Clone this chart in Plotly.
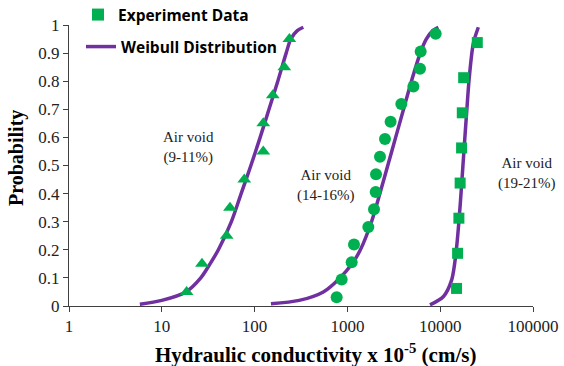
import plotly.graph_objects as go

# Experimental hydraulic conductivity (x 1e-5 cm/s) and cumulative probability
tri_k = [18.5, 27.1, 50, 54.3, 77.4, 124, 124, 157, 209, 237]
tri_p = [0.05, 0.15, 0.25, 0.35, 0.45, 0.55, 0.65, 0.75, 0.85, 0.95]

circ_k = [766, 867, 1112, 1178, 1680, 1935, 2018, 2035, 2245, 2540, 2920,
          3810, 5140, 6060, 6160, 8940]
circ_p = [0.031, 0.094, 0.156, 0.219, 0.281, 0.344, 0.406, 0.469, 0.531,
          0.594, 0.656, 0.719, 0.781, 0.844, 0.906, 0.969]

sq_k = [15000, 15400, 15900, 16400, 17000, 17300, 17900, 25100]
sq_p = [0.0625, 0.1875, 0.3125, 0.4375, 0.5625, 0.6875, 0.8125, 0.9375]

# Weibull distribution curves
wb1_k = [5.8, 10.0, 18.2, 26.3, 33.1, 40.7, 56.2, 71.6, 91.2, 114.8, 142.9,
         177.8, 218.8, 245.5, 288.4, 335]
wb1_p = [0.006, 0.02, 0.05, 0.1, 0.15, 0.2, 0.3, 0.4, 0.5, 0.6, 0.7, 0.8,
         0.9, 0.95, 0.98, 0.992]

wb2_k = [150, 302, 550, 832, 1122, 1380, 1820, 2239, 2723, 3311, 4027, 4898,
         6095, 7079, 8318, 9550]
wb2_p = [0.008, 0.02, 0.05, 0.1, 0.15, 0.2, 0.3, 0.4, 0.5, 0.6, 0.7, 0.8,
         0.9, 0.95, 0.98, 0.992]

wb3_k = [7760, 10790, 13300, 14790, 15960, 17060, 18100, 19250, 20610, 22750,
         25760]
wb3_p = [0.004, 0.033, 0.093, 0.188, 0.306, 0.437, 0.561, 0.686, 0.816,
         0.935, 0.992]

x_ticks = [1, 10, 100, 1000, 10000, 100000]
x_tick_text = ["1", "10", "100", "1000", "10000", "100000"]
y_ticks = [0, 0.1, 0.2, 0.3, 0.4, 0.5, 0.6, 0.7, 0.8, 0.9, 1]
y_tick_text = ["0", "0.1", "0.2", "0.3", "0.4", "0.5", "0.6", "0.7", "0.8",
               "0.9", "1"]

group_labels = ["Air void<br>(9-11%)", "Air void<br>(14-16%)",
                "Air void<br>(19-21%)"]
x_title = "<b>Hydraulic conductivity x 10<sup>-5</sup> (cm/s)</b>"
y_title = "<b>Probability</b>"

GREEN = "#00B050"
PURPLE = "#7030A0"
W, H = 564, 366
L, R, T, B = 69, 31, 25, 60

fig = go.Figure()

for k, p, show in [(wb1_k, wb1_p, True), (wb2_k, wb2_p, False),
                   (wb3_k, wb3_p, False)]:
    fig.add_trace(go.Scatter(
        x=k, y=p, mode="lines", name="Weibull Distribution",
        line=dict(color=PURPLE, width=3.5, shape="spline", smoothing=0.8),
        showlegend=show, legend="legend2", hoverinfo="skip"))

fig.add_trace(go.Scatter(
    x=tri_k, y=tri_p, mode="markers", showlegend=False,
    marker=dict(symbol="triangle-up", size=12, color=GREEN)))
fig.add_trace(go.Scatter(
    x=circ_k, y=circ_p, mode="markers", showlegend=False,
    marker=dict(symbol="circle", size=12, color=GREEN)))
fig.add_trace(go.Scatter(
    x=sq_k, y=sq_p, mode="markers", name="Experiment Data",
    marker=dict(symbol="square", size=11, color=GREEN), legend="legend"))

# group labels beside each curve
label_pos = [(188, 147.5), (325, 185.5), (526, 173)]
for text, (px, py) in zip(group_labels, label_pos):
    fig.add_annotation(
        text=text, xref="paper", yref="paper",
        x=(px - L) / (W - L - R), y=(H - B - py) / (H - T - B),
        showarrow=False, xanchor="center", yanchor="middle",
        font=dict(family="Liberation Serif", size=15, color="#222"))

# axis titles
fig.add_annotation(
    text=x_title, xref="paper", yref="paper",
    x=(315 - L) / (W - L - R), y=(H - B - 354) / (H - T - B),
    showarrow=False, xanchor="center", yanchor="middle",
    font=dict(family="Liberation Serif", size=21, color="black"))
fig.add_annotation(
    text=y_title, xref="paper", yref="paper", textangle=-90,
    x=(16 - L) / (W - L - R), y=(H - B - 158) / (H - T - B),
    showarrow=False, xanchor="center", yanchor="middle",
    font=dict(family="Liberation Serif", size=20, color="black"))

legend_font = dict(family="Open Sans", size=15.5, color="black", weight="bold")
axis_col = "#404040"

fig.update_layout(
    width=W, height=H,
    margin=dict(l=L, r=R, t=T, b=B, autoexpand=False),
    paper_bgcolor="white", plot_bgcolor="white",
    legend=dict(xref="container", yref="container", x=78 / W, y=1 - 15 / H,
                xanchor="left", yanchor="middle", font=legend_font,
                bgcolor="rgba(0,0,0,0)", itemsizing="constant"),
    legend2=dict(xref="container", yref="container", x=81 / W, y=1 - 47 / H,
                 xanchor="left", yanchor="middle", font=legend_font,
                 bgcolor="rgba(0,0,0,0)"),
    xaxis=dict(
        type="log", range=[0, 5], tickvals=x_ticks, ticktext=x_tick_text,
        tickangle=0, automargin=False,
        showgrid=False, zeroline=False, showline=True, linecolor=axis_col,
        linewidth=1, ticks="outside", ticklen=5, tickcolor=axis_col,
        tickfont=dict(family="Liberation Serif", size=17, color="#222")),
    yaxis=dict(
        range=[0, 1], tickvals=y_ticks, ticktext=y_tick_text,
        automargin=False,
        showgrid=False, zeroline=False, showline=True, linecolor=axis_col,
        linewidth=1, ticks="outside", ticklen=5, tickcolor=axis_col,
        tickfont=dict(family="Liberation Serif", size=17, color="#222")),
)

fig.write_html("out.html")
